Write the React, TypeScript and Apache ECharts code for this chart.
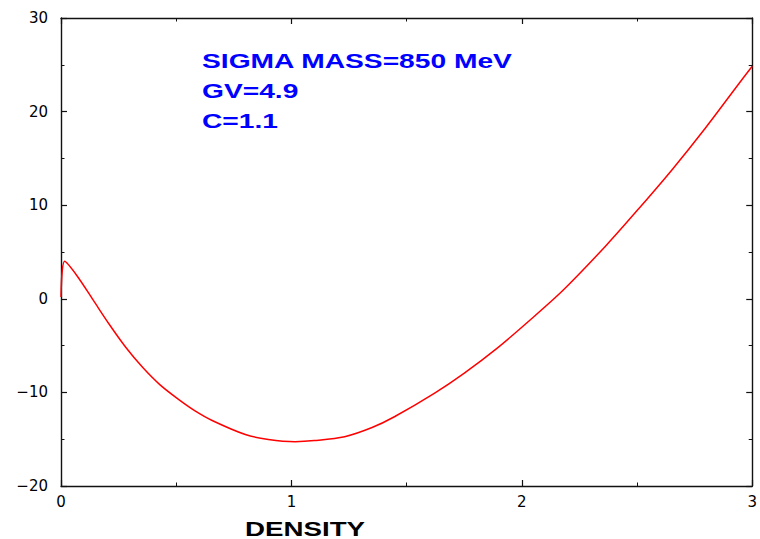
import React, { useEffect, useRef } from "react";
import * as echarts from "echarts";

const densityValues = [
  0, 0.016, 0.07, 0.14, 0.21, 0.28, 0.355, 0.43, 0.51, 0.58, 0.656, 0.8, 0.9,
  1.016, 1.1, 1.231, 1.35, 1.447, 1.62, 1.749, 1.892, 2.036, 2.18, 2.366, 2.51,
  2.654, 2.797, 2.941, 3.0,
];
const energyValues = [
  0.2, 4.0, 2.44, -0.15, -2.75, -5.15, -7.35, -9.2, -10.75, -11.95, -13.0,
  -14.5, -15.03, -15.27, -15.15, -14.73, -13.75, -12.6, -10.1, -7.96, -5.29,
  -2.26, 0.94, 5.7, 9.7, 13.85, 18.25, 22.95, 24.85,
];
const xTicks = { min: 0, max: 3, interval: 1 };
const yTicks = { min: -20, max: 30, interval: 10 };
const annotationLines = ["SIGMA MASS=850 MeV", "GV=4.9", "C=1.1"];
const xAxisTitle = "DENSITY";

export default function App() {
  const ref = useRef<HTMLDivElement>(null);

  useEffect(() => {
    if (!ref.current) return;
    const chart = echarts.init(ref.current, null, { renderer: "svg" });
    const lineStyle = { color: "#111", width: 1.4 };
    const axisLine = { show: true, onZero: false, lineStyle };
    const tickCommon = {
      show: true,
      inside: true,
      length: 6,
      lineStyle: { color: "#111", width: 1.2 },
    };
    const minorCommon = {
      show: true,
      splitNumber: 2,
      length: 3.5,
      lineStyle: { color: "#111", width: 1 },
    };
    const labelFont = {
      fontFamily: "DejaVu Sans",
      fontSize: 15,
      color: "#000",
    };
    const fmtY = (v: number) => (v < 0 ? "\u2212" + Math.abs(v) : String(v));

    const seriesData = densityValues.map((d, i) => [d, energyValues[i]]);

    chart.setOption({
      animation: false,
      backgroundColor: "#fff",
      grid: { left: 61, top: 18, right: 3, bottom: 53, containLabel: false },
      xAxis: [
        {
          type: "value",
          position: "bottom",
          ...xTicks,
          axisLine,
          axisTick: tickCommon,
          minorTick: minorCommon,
          splitLine: { show: false },
          axisLabel: { ...labelFont, margin: 8, showMaxLabel: true },
        },
        {
          type: "value",
          position: "top",
          ...xTicks,
          axisLine,
          axisTick: tickCommon,
          minorTick: minorCommon,
          splitLine: { show: false },
          axisLabel: { show: false },
        },
      ],
      yAxis: [
        {
          type: "value",
          position: "left",
          ...yTicks,
          axisLine,
          axisTick: tickCommon,
          minorTick: minorCommon,
          splitLine: { show: false },
          axisLabel: { ...labelFont, margin: 13, formatter: fmtY },
        },
        {
          type: "value",
          position: "right",
          ...yTicks,
          axisLine,
          axisTick: tickCommon,
          minorTick: minorCommon,
          splitLine: { show: false },
          axisLabel: { show: false },
        },
      ],
      series: [
        {
          type: "line",
          xAxisIndex: 0,
          yAxisIndex: 0,
          data: seriesData,
          showSymbol: false,
          smooth: 0.3,
          lineStyle: { color: "#ff0000", width: 1.5 },
        },
      ],
      graphic: [
        ...annotationLines.map((t, i) => ({
          type: "text",
          x: 202,
          y: 61 + i * 30,
          scaleX: 1.41,
          style: {
            text: t,
            x: 0,
            y: 0,
            fill: "#0000ff",
            font: "bold 20px 'Liberation Sans', Arial, sans-serif",
            textAlign: "left",
            textVerticalAlign: "middle",
          },
        })),
        {
          type: "text",
          x: 245,
          y: 528.5,
          scaleX: 1.32,
          style: {
            text: xAxisTitle,
            x: 0,
            y: 0,
            fill: "#000",
            font: "bold 21px 'Liberation Sans', Arial, sans-serif",
            lineHeight: 18,
            textAlign: "left",
            textVerticalAlign: "middle",
          },
        },
      ],
    });
    return () => chart.dispose();
  }, []);

  return (
    <div
      ref={ref}
      style={{
        position: "fixed",
        left: 0,
        top: 0,
        width: 760,
        height: 539,
        background: "#fff",
      }}
    />
  );
}
